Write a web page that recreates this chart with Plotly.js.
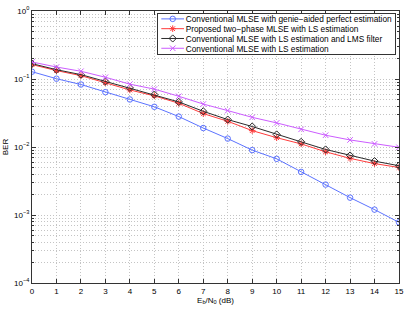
<!DOCTYPE html>
<html>
<head>
<meta charset="utf-8">
<script src="https://cdn.plot.ly/plotly-3.0.1.min.js"></script>
<style>html,body{margin:0;padding:0;background:#fff;}#chart{width:407px;height:310px;}</style>
</head>
<body>
<div id="chart"></div>
<script>
var snr = [0,1,2,3,4,5,6,7,8,9,10,11,12,13,14,15];
var berPerfect = [0.128,0.101,0.083,0.064,0.050,0.039,0.028,0.019,0.0133,0.0090,0.0067,0.0043,0.0028,0.0018,0.0012,0.00078];
var berProposed = [0.163,0.133,0.112,0.0885,0.069,0.0565,0.044,0.031,0.0239,0.0174,0.0137,0.0111,0.0085,0.0068,0.0057,0.0050];
var berLMS = [0.168,0.137,0.116,0.092,0.074,0.059,0.046,0.0335,0.0253,0.020,0.0153,0.0119,0.0092,0.0075,0.0062,0.0053];
var berLS = [0.178,0.150,0.130,0.106,0.084,0.071,0.0557,0.0428,0.0343,0.0273,0.0226,0.0182,0.0149,0.0127,0.0111,0.0099];
var names = [
  'Conventional MLSE with genie\u2212aided perfect estimation',
  'Proposed two\u2212phase MLSE with LS estimation',
  'Conventional MLSE with LS estimation and LMS filter',
  'Conventional MLSE with LS estimation'
];
var yTickVals = [1e-4,1e-3,1e-2,1e-1,1];
var yTickText = ['10<sup>\u22124</sup>','10<sup>\u22123</sup>','10<sup>\u22122</sup>','10<sup>\u22121</sup>','10<sup>0</sup>'];

var minorVals = [];
for (var d = -4; d < 0; d++) { for (var m = 2; m <= 9; m++) { minorVals.push(m * Math.pow(10, d)); } }

function tr(y, name, color, symbol) {
  return {x: snr, y: y, name: name, type: 'scatter', mode: 'lines+markers',
    line: {color: color, width: 1},
    marker: {symbol: symbol, size: 5.5, color: color, line: {color: color, width: 1}}};
}
var data = [
  tr(berPerfect, names[0], '#5c73ff', 'circle-open'),
  tr(berProposed, names[1], '#ff3b3b', 'asterisk-open'),
  tr(berLMS, names[2], '#2b2b2b', 'diamond-open'),
  tr(berLS, names[3], '#cc5cff', 'x-thin-open')
];
var gridCol = '#c4c4c4';
var layout = {
  width: 407, height: 310,
  margin: {l: 32, r: 8, t: 11, b: 27, autoexpand: false},
  paper_bgcolor: '#fff', plot_bgcolor: '#fff',
  font: {family: 'Liberation Sans, Arial, sans-serif', size: 8, color: '#000'},
  showlegend: true,
  legend: {x: 0.3398, y: 0.992, xanchor: 'left', yanchor: 'top', bgcolor: '#fff',
    bordercolor: '#333', borderwidth: 1, font: {size: 8.3}, tracegroupgap: 0},
  xaxis: {range: [0, 15], dtick: 1, tick0: 0, showline: true, linecolor: '#333', mirror: 'ticks',
    ticks: 'inside', ticklen: 4, tickcolor: '#333', showgrid: true, gridcolor: gridCol, griddash: '1px,2px',
    zeroline: false, tickfont: {size: 8},
    title: {text: 'E<sub>b</sub>/N<sub>0</sub> (dB)', font: {size: 8}, standoff: 2}},
  yaxis: {type: 'log', range: [-4, 0], tickmode: 'array', tickvals: yTickVals, ticktext: yTickText,
    showline: true, linecolor: '#333', mirror: 'ticks', ticks: 'inside', ticklen: 4, tickcolor: '#333',
    showgrid: true, gridcolor: gridCol, griddash: '1px,2px', zeroline: false, tickfont: {size: 8},
    minor: {tickmode: 'array', tickvals: minorVals, ticks: 'inside', ticklen: 2, tickcolor: '#333',
      showgrid: true, gridcolor: gridCol, griddash: '1px,2px'},
    title: {text: 'BER', font: {size: 8}, standoff: 4}}
};

function compactLegend() {
  var lg = document.querySelector('#chart .legend');
  if (!lg) return;
  var items = lg.querySelectorAll('.traces');
  var rowH = 9.8, top = 5.7, shiftX = -12;
  var maxW = 0;
  for (var i = 0; i < items.length; i++) {
    var t = items[i].getAttribute('transform') || '';
    var mx = /translate\(\s*([-\d.]+)/.exec(t);
    var x0 = mx ? parseFloat(mx[1]) : 0;
    items[i].setAttribute('transform', 'translate(' + (x0 + shiftX) + ',' + (top + i * rowH) + ')');
    var lines = items[i].querySelectorAll('.legendlines path');
    for (var j = 0; j < lines.length; j++) lines[j].setAttribute('d', 'M15.6,0h22.7');
    var pts = items[i].querySelectorAll('.legendpoints path');
    for (var k = 0; k < pts.length; k++) pts[k].setAttribute('transform', 'translate(27,0)');
    var txt = items[i].querySelector('text.legendtext');
    if (txt) { try { maxW = Math.max(maxW, txt.getBBox().width); } catch (e) {} }
  }
  var bg = lg.querySelector('.bg');
  var h = top + (items.length - 1) * rowH + 5.3;
  if (bg) {
    bg.setAttribute('height', h);
    if (maxW > 0) bg.setAttribute('width', maxW + 29 + 3);
  }
}
Plotly.newPlot('chart', data, layout, {displayModeBar: false, staticPlot: true}).then(compactLegend);
</script>
</body>
</html>
